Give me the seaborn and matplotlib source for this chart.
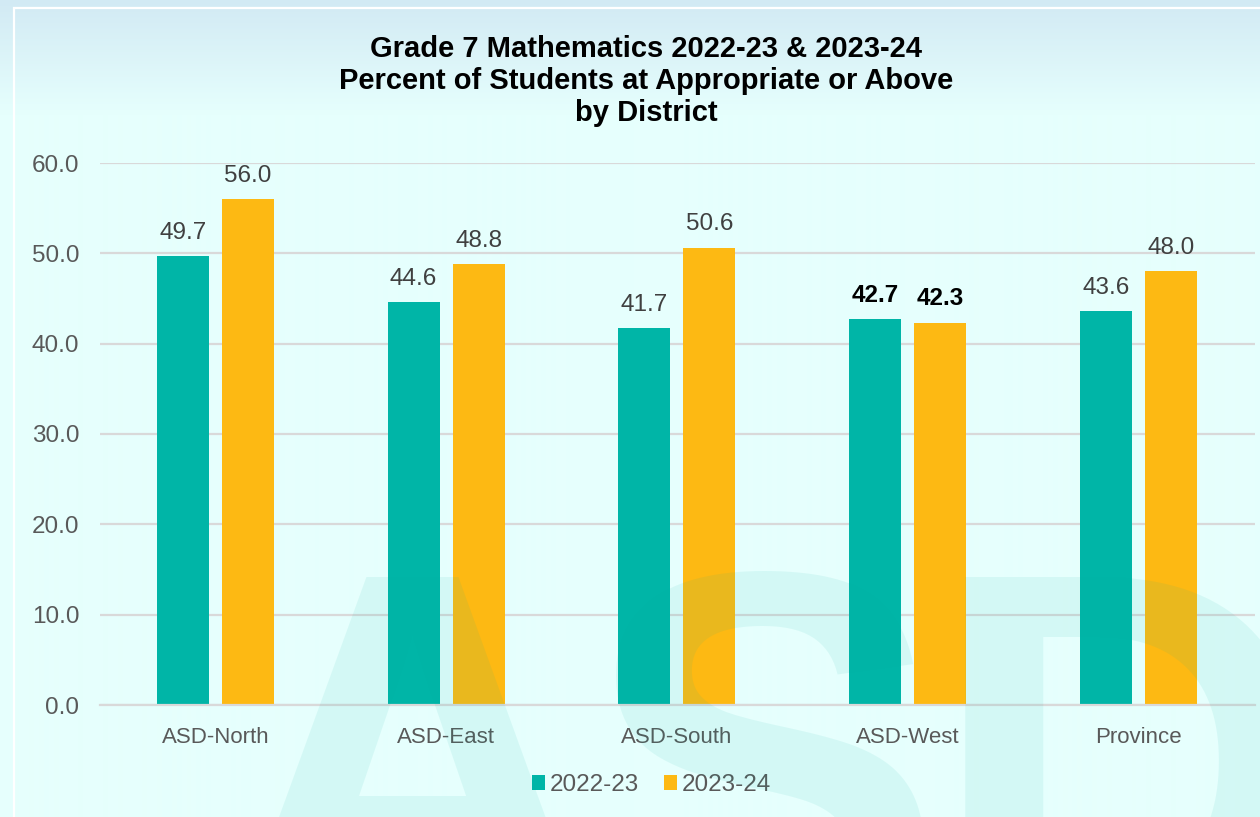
import numpy as np
import pandas as pd
import matplotlib
matplotlib.use("Agg")
import matplotlib.pyplot as plt
from matplotlib.colors import LinearSegmentedColormap
from matplotlib.patches import Rectangle
import seaborn as sns

# ---- data ----
districts = ["ASD-North", "ASD-East", "ASD-South", "ASD-West", "Province"]
years = ["2022-23", "2023-24"]
vals_2223 = [49.7, 44.6, 41.7, 42.7, 43.6]
vals_2324 = [56.0, 48.8, 50.6, 42.3, 48.0]
yticks = [0, 10, 20, 30, 40, 50, 60]
title = "Grade 7 Mathematics 2022-23 & 2023-24\nPercent of Students at Appropriate or Above\nby District"

df = pd.DataFrame({
    "District": districts * 2,
    "Year": [years[0]] * len(districts) + [years[1]] * len(districts),
    "Value": vals_2223 + vals_2324,
})

sns.set_style("white")
plt.rcParams["font.family"] = ["Liberation Sans", "DejaVu Sans"]

TEAL = "#00B5A7"
GOLD = "#FDB913"
GRID = "#D9D9D9"
TXT = "#595959"

W, H = 1260, 817
fig = plt.figure(figsize=(W / 100, H / 100), dpi=100)

# background gradient
bg = fig.add_axes([0, 0, 1, 1], zorder=-10)
cmap = LinearSegmentedColormap.from_list("bg", ["#D2EAF4", "#E6FFFD"])
grad = np.ones((H, 1))
grad[:, 0] = np.clip(np.arange(H) / 115.0, 0, 1)
bg.imshow(grad, aspect="auto", cmap=cmap, extent=[0, 1, 0, 1], origin="upper", vmin=0, vmax=1)
bg.set_axis_off()
fig.patches.append(Rectangle((14 / W, -0.01), 1.0, 1 - 8 / H + 0.01, transform=fig.transFigure,
                             fill=False, edgecolor="white", linewidth=1.6, zorder=-5))

ax = fig.add_axes([100 / W, (H - 705) / H, 1155 / W, (705 - 163) / H], zorder=1)
ax.patch.set_visible(False)

sns.barplot(data=df, x="District", y="Value", hue="Year", hue_order=years,
            order=districts, palette=[TEAL, GOLD], width=0.563, gap=0.2,
            saturation=1, ax=ax, errorbar=None, linewidth=0)

ax.set_ylim(0, 60)
ax.set_xlim(-0.5, 4.506)
ax.set_yticks(yticks)
ax.set_yticklabels([f"{t:.1f}" for t in yticks])
ax.grid(axis="y", color=GRID, linewidth=1.6)
ax.set_axisbelow(True)
for s in ["top", "right", "left"]:
    ax.spines[s].set_visible(False)
ax.spines["bottom"].set_color(GRID)
ax.spines["bottom"].set_linewidth(1.6)
ax.set_xlabel("")
ax.set_ylabel("")
ax.tick_params(axis="both", length=0, labelcolor=TXT)
ax.tick_params(axis="y", pad=15, labelsize=17.5)
ax.tick_params(axis="x", pad=15.5, labelsize=16)

for cont in ax.containers:
    texts = ax.bar_label(cont, fmt="%.1f", padding=9, fontsize=17.5, color="#404040")
    for i, t in enumerate(texts):
        if districts[i] == "ASD-West":
            t.set_color("black")
            t.set_fontweight("bold")

handles, labels = ax.get_legend_handles_labels()
ax.legend(handles, labels, loc="center", bbox_to_anchor=(0.517, 0.039),
          bbox_transform=fig.transFigure, ncol=2, frameon=False,
          handlelength=0.55, handleheight=0.55, handletextpad=0.2,
          columnspacing=1.0, prop={"size": 17.5}, labelcolor=TXT)

fig.text(0.513, 1 - 81 / H, title, ha="center", va="center", fontsize=21,
         fontweight="bold", color="black", linespacing=1.2)

# watermark letters
for letter, xc in [("A", 412), ("S", 763), ("D", 1124)]:
    fig.text(xc / W, (H - 950) / H, letter, ha="center", va="baseline",
             fontsize=390, fontweight="bold", color="#00B0A0", alpha=0.08, zorder=5)

fig.savefig("out.png", dpi=100)
